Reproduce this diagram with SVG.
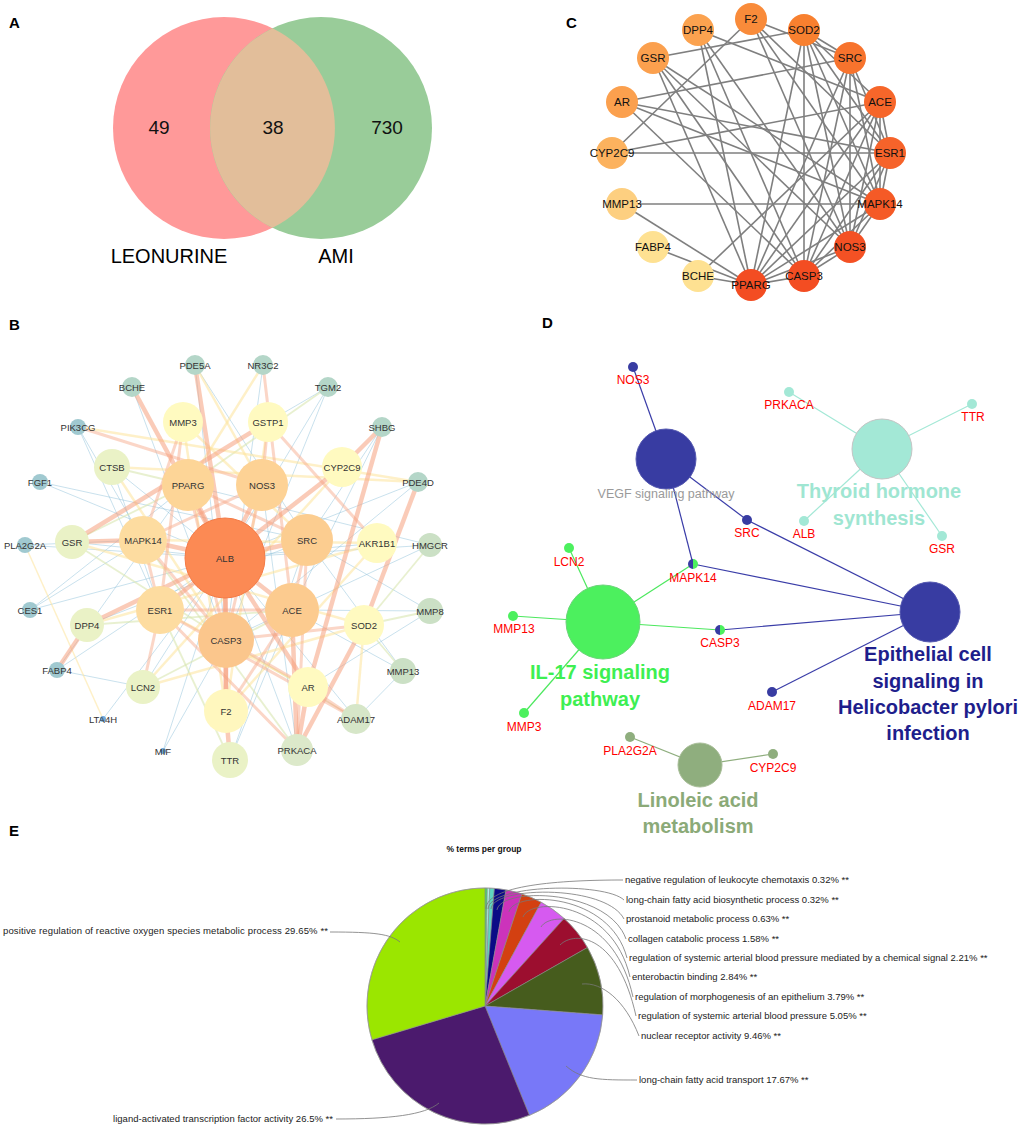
<svg xmlns="http://www.w3.org/2000/svg" width="1021" height="1130" viewBox="0 0 1021 1130">
<style>
text{font-family:"Liberation Sans",Arial,sans-serif}
.pl{font-size:15px;font-weight:bold;fill:#000}
.vn{font-size:19px;fill:#111;text-anchor:middle}
.vl{font-size:20px;fill:#000;text-anchor:middle}
.cl{font-size:11.5px;fill:#111;text-anchor:middle}
.ce line{stroke:#7f7f7f;stroke-width:1.6}
.bl{font-size:9.5px;fill:#333;text-anchor:middle}
.bT line{stroke:#F5A07E;stroke-opacity:.55;stroke-width:4.5}
.bS line{stroke:#F7AE90;stroke-opacity:.5;stroke-width:3}
.bY line{stroke:#FDE39A;stroke-opacity:.55;stroke-width:2.5}
.bG line{stroke:#D8E6B0;stroke-opacity:.6;stroke-width:1.8}
.bL line{stroke:#8EC0DA;stroke-opacity:.6;stroke-width:.8}
.dl{font-size:12px;fill:#FF0000;text-anchor:middle}
.dbig{font-size:20px;font-weight:bold;text-anchor:middle}
.el{font-size:9.5px;fill:#222}
.lead{fill:none;stroke:#777;stroke-width:.8}
.sl{stroke:#888;stroke-width:.6}
</style>

<!-- Panel labels -->
<text class="pl" x="9" y="28">A</text>
<text class="pl" x="566" y="28">C</text>
<text class="pl" x="9" y="330">B</text>
<text class="pl" x="542" y="328">D</text>
<text class="pl" x="9" y="836">E</text>

<!-- Panel A: Venn -->
<g id="venn">
<circle cx="224" cy="128" r="111" fill="#FF9999"/>
<circle cx="321" cy="128" r="111" fill="#99CC99"/>
<path d="M272.5,28.2 A111,111 0 0 1 272.5,227.8 A111,111 0 0 1 272.5,28.2 Z" fill="#E2BE9A"/>
<text class="vn" x="159" y="134">49</text>
<text class="vn" x="273" y="134">38</text>
<text class="vn" x="387" y="134">730</text>
<text class="vl" x="169" y="263">LEONURINE</text>
<text class="vl" x="336" y="263">AMI</text>
</g>

<!-- Panel C -->
<g id="c-edges" class="ce">
<line x1="653" y1="58" x2="804" y2="30"/>
<line x1="622" y1="102" x2="850" y2="58"/>
<line x1="612" y1="153" x2="880" y2="102"/>
<line x1="612" y1="153" x2="890" y2="153"/>
<line x1="622" y1="204" x2="880" y2="204"/>
<line x1="622" y1="204" x2="751" y2="285"/>
<line x1="653" y1="247" x2="751" y2="285"/>
<line x1="698" y1="276" x2="880" y2="102"/>
<line x1="751" y1="19" x2="612" y2="153"/>
<line x1="698" y1="30" x2="751" y2="285"/>
<line x1="698" y1="30" x2="804" y2="276"/>
<line x1="698" y1="30" x2="850" y2="247"/>
<line x1="698" y1="30" x2="880" y2="102"/>
<line x1="751" y1="19" x2="850" y2="58"/>
<line x1="751" y1="19" x2="890" y2="153"/>
<line x1="751" y1="19" x2="850" y2="247"/>
<line x1="751" y1="19" x2="880" y2="204"/>
<line x1="653" y1="58" x2="751" y2="285"/>
<line x1="653" y1="58" x2="850" y2="247"/>
<line x1="653" y1="58" x2="880" y2="204"/>
<line x1="653" y1="58" x2="804" y2="276"/>
<line x1="622" y1="102" x2="890" y2="153"/>
<line x1="622" y1="102" x2="880" y2="204"/>
<line x1="622" y1="102" x2="804" y2="276"/>
<line x1="804" y1="30" x2="804" y2="276"/>
<line x1="804" y1="30" x2="751" y2="285"/>
<line x1="804" y1="30" x2="850" y2="58"/>
<line x1="804" y1="30" x2="880" y2="102"/>
<line x1="804" y1="30" x2="890" y2="153"/>
<line x1="804" y1="30" x2="880" y2="204"/>
<line x1="804" y1="30" x2="850" y2="247"/>
<line x1="850" y1="58" x2="751" y2="285"/>
<line x1="850" y1="58" x2="804" y2="276"/>
<line x1="850" y1="58" x2="850" y2="247"/>
<line x1="850" y1="58" x2="880" y2="204"/>
<line x1="850" y1="58" x2="890" y2="153"/>
<line x1="880" y1="102" x2="751" y2="285"/>
<line x1="880" y1="102" x2="804" y2="276"/>
<line x1="880" y1="102" x2="850" y2="247"/>
<line x1="880" y1="102" x2="880" y2="204"/>
<line x1="880" y1="102" x2="890" y2="153"/>
<line x1="890" y1="153" x2="751" y2="285"/>
<line x1="890" y1="153" x2="804" y2="276"/>
<line x1="890" y1="153" x2="850" y2="247"/>
<line x1="890" y1="153" x2="880" y2="204"/>
<line x1="880" y1="204" x2="751" y2="285"/>
<line x1="880" y1="204" x2="804" y2="276"/>
<line x1="880" y1="204" x2="850" y2="247"/>
<line x1="850" y1="247" x2="804" y2="276"/>
<line x1="850" y1="247" x2="751" y2="285"/>
<line x1="804" y1="276" x2="751" y2="285"/>
<line x1="698" y1="276" x2="751" y2="285"/>
</g>
<g id="c-F2"><circle cx="751" cy="19" r="16" fill="#F98B3A"/><text class="cl" x="751" y="23">F2</text></g>
<g id="c-DPP4"><circle cx="698" cy="30" r="16" fill="#FBA24F"/><text class="cl" x="698" y="34">DPP4</text></g>
<g id="c-SOD2"><circle cx="804" cy="30" r="16" fill="#F8802F"/><text class="cl" x="804" y="34">SOD2</text></g>
<g id="c-GSR"><circle cx="653" cy="58" r="16" fill="#FBA04E"/><text class="cl" x="653" y="62">GSR</text></g>
<g id="c-SRC"><circle cx="850" cy="58" r="16" fill="#F7732D"/><text class="cl" x="850" y="62">SRC</text></g>
<g id="c-AR"><circle cx="622" cy="102" r="16" fill="#FBA04E"/><text class="cl" x="622" y="106">AR</text></g>
<g id="c-ACE"><circle cx="880" cy="102" r="16" fill="#F6662A"/><text class="cl" x="880" y="106">ACE</text></g>
<g id="c-CYP2C9"><circle cx="612" cy="153" r="16" fill="#FCB25E"/><text class="cl" x="612" y="157">CYP2C9</text></g>
<g id="c-ESR1"><circle cx="890" cy="153" r="16" fill="#F6632A"/><text class="cl" x="890" y="157">ESR1</text></g>
<g id="c-MMP13"><circle cx="622" cy="204" r="16" fill="#FDCF80"/><text class="cl" x="622" y="208">MMP13</text></g>
<g id="c-MAPK14"><circle cx="880" cy="204" r="16" fill="#F55A26"/><text class="cl" x="880" y="208">MAPK14</text></g>
<g id="c-FABP4"><circle cx="653" cy="247" r="16" fill="#FEE192"/><text class="cl" x="653" y="251">FABP4</text></g>
<g id="c-NOS3"><circle cx="850" cy="247" r="16" fill="#F45124"/><text class="cl" x="850" y="251">NOS3</text></g>
<g id="c-BCHE"><circle cx="698" cy="276" r="16" fill="#FEE192"/><text class="cl" x="698" y="280">BCHE</text></g>
<g id="c-CASP3"><circle cx="804" cy="276" r="16" fill="#F34D22"/><text class="cl" x="804" y="280">CASP3</text></g>
<g id="c-PPARG"><circle cx="751" cy="285" r="16" fill="#F34D22"/><text class="cl" x="751" y="289">PPARG</text></g>

<!-- Panel B -->
<g id="b-edges">
<g class="bL">
<line x1="30" y1="610" x2="143" y2="540"/><line x1="30" y1="610" x2="225" y2="558"/><line x1="30" y1="610" x2="188" y2="485"/>
<line x1="40" y1="482" x2="307" y2="540"/><line x1="40" y1="482" x2="225" y2="558"/>
<line x1="78" y1="427" x2="143" y2="540"/><line x1="78" y1="427" x2="160" y2="610"/>
<line x1="57" y1="670" x2="143" y2="687"/><line x1="57" y1="670" x2="225" y2="558"/><line x1="57" y1="670" x2="188" y2="485"/>
<line x1="163" y1="751" x2="225" y2="558"/><line x1="163" y1="751" x2="226" y2="640"/>
<line x1="103" y1="719" x2="225" y2="558"/>
<line x1="230" y1="760" x2="292" y2="610"/><line x1="230" y1="760" x2="307" y2="540"/>
<line x1="297" y1="750" x2="225" y2="558"/><line x1="297" y1="750" x2="262" y2="485"/>
<line x1="403" y1="671" x2="356" y2="719"/><line x1="403" y1="671" x2="307" y2="540"/><line x1="403" y1="671" x2="292" y2="610"/>
<line x1="430" y1="611" x2="292" y2="610"/><line x1="430" y1="611" x2="308" y2="687"/><line x1="430" y1="611" x2="307" y2="540"/>
<line x1="430" y1="545" x2="225" y2="558"/><line x1="430" y1="545" x2="188" y2="485"/><line x1="430" y1="545" x2="226" y2="640"/>
<line x1="418" y1="482" x2="225" y2="558"/><line x1="418" y1="482" x2="226" y2="640"/>
<line x1="382" y1="427" x2="307" y2="540"/><line x1="382" y1="427" x2="292" y2="610"/>
<line x1="328" y1="387" x2="226" y2="640"/><line x1="328" y1="387" x2="268" y2="422"/><line x1="328" y1="387" x2="225" y2="558"/>
<line x1="263" y1="365" x2="226" y2="640"/><line x1="195" y1="365" x2="226" y2="640"/><line x1="195" y1="365" x2="307" y2="540"/>
<line x1="132" y1="387" x2="226" y2="640"/>
<line x1="25" y1="545" x2="225" y2="558"/><line x1="25" y1="545" x2="143" y2="540"/>
<line x1="112" y1="467" x2="225" y2="558"/><line x1="112" y1="467" x2="160" y2="610"/>
<line x1="72" y1="542" x2="225" y2="558"/><line x1="377" y1="543" x2="225" y2="558"/><line x1="143" y1="687" x2="225" y2="558"/>
<line x1="87" y1="625" x2="307" y2="540"/><line x1="356" y1="719" x2="225" y2="558"/>
</g>
<g class="bG">
<line x1="112" y1="467" x2="188" y2="485"/><line x1="72" y1="542" x2="226" y2="640"/><line x1="87" y1="625" x2="292" y2="610"/>
<line x1="143" y1="687" x2="292" y2="610"/><line x1="230" y1="760" x2="160" y2="610"/><line x1="328" y1="387" x2="188" y2="485"/>
<line x1="297" y1="750" x2="143" y2="540"/><line x1="356" y1="719" x2="226" y2="640"/><line x1="430" y1="611" x2="364" y2="625"/>
<line x1="430" y1="545" x2="364" y2="625"/><line x1="403" y1="671" x2="364" y2="625"/><line x1="72" y1="542" x2="188" y2="485"/>
</g>
<g class="bY">
<line x1="112" y1="467" x2="418" y2="482"/><line x1="78" y1="427" x2="418" y2="482"/>
<line x1="103" y1="719" x2="25" y2="545" style="stroke-width:1.5"/>
<line x1="183" y1="422" x2="226" y2="711"/><line x1="268" y1="422" x2="226" y2="711"/>
<line x1="143" y1="687" x2="364" y2="625"/><line x1="226" y1="711" x2="377" y2="543"/>
<line x1="342" y1="467" x2="143" y2="687"/><line x1="72" y1="542" x2="364" y2="625"/>
<line x1="183" y1="422" x2="307" y2="540"/><line x1="195" y1="365" x2="262" y2="485"/>
<line x1="263" y1="365" x2="188" y2="485"/><line x1="143" y1="540" x2="377" y2="543"/>
<line x1="87" y1="625" x2="377" y2="543"/><line x1="160" y1="610" x2="308" y2="687"/>
<line x1="364" y1="625" x2="356" y2="719"/><line x1="112" y1="467" x2="226" y2="640"/>
</g>
<g class="bS">
<line x1="263" y1="365" x2="292" y2="610"/><line x1="78" y1="427" x2="262" y2="485"/>
<line x1="268" y1="422" x2="377" y2="543"/><line x1="183" y1="422" x2="160" y2="610"/>
<line x1="160" y1="610" x2="143" y2="687"/><line x1="160" y1="610" x2="356" y2="719"/>
<line x1="160" y1="610" x2="297" y2="750"/><line x1="307" y1="540" x2="297" y2="750"/>
<line x1="308" y1="687" x2="356" y2="719"/><line x1="226" y1="711" x2="292" y2="610"/>
<line x1="143" y1="540" x2="226" y2="640"/><line x1="188" y1="485" x2="226" y2="640"/>
<line x1="262" y1="485" x2="226" y2="640"/><line x1="188" y1="485" x2="307" y2="540"/>
<line x1="262" y1="485" x2="143" y2="540"/><line x1="143" y1="540" x2="160" y2="610"/>
<line x1="307" y1="540" x2="292" y2="610"/><line x1="160" y1="610" x2="292" y2="610"/>
<line x1="226" y1="640" x2="308" y2="687"/><line x1="183" y1="422" x2="143" y2="540"/>
<line x1="268" y1="422" x2="262" y2="485"/><line x1="226" y1="640" x2="364" y2="625"/>
</g>
<g class="bT">
<line x1="225" y1="558" x2="188" y2="485"/><line x1="225" y1="558" x2="262" y2="485"/>
<line x1="225" y1="558" x2="143" y2="540"/><line x1="225" y1="558" x2="307" y2="540"/>
<line x1="225" y1="558" x2="160" y2="610"/><line x1="225" y1="558" x2="292" y2="610"/>
<line x1="225" y1="558" x2="226" y2="640"/><line x1="226" y1="640" x2="226" y2="711"/>
<line x1="226" y1="711" x2="230" y2="760"/><line x1="225" y1="558" x2="342" y2="467"/>
<line x1="342" y1="467" x2="382" y2="427"/><line x1="382" y1="427" x2="308" y2="687"/>
<line x1="132" y1="387" x2="225" y2="558"/><line x1="195" y1="365" x2="225" y2="558"/>
<line x1="268" y1="422" x2="72" y2="542"/><line x1="418" y1="482" x2="364" y2="625"/>
<line x1="143" y1="540" x2="72" y2="542"/><line x1="87" y1="625" x2="57" y2="670"/>
<line x1="87" y1="625" x2="225" y2="558"/><line x1="308" y1="687" x2="297" y2="750"/>
<line x1="292" y1="610" x2="297" y2="750"/><line x1="364" y1="625" x2="297" y2="750"/>
<line x1="225" y1="558" x2="308" y2="687"/><line x1="225" y1="558" x2="226" y2="711"/>
</g>
</g>
<g id="b-PDE5A"><circle cx="195" cy="365" r="10" fill="#B4D6C8"/><text class="bl" x="195" y="368.5">PDE5A</text></g>
<g id="b-NR3C2"><circle cx="263" cy="365" r="10" fill="#B4D6C8"/><text class="bl" x="263" y="368.5">NR3C2</text></g>
<g id="b-BCHE"><circle cx="132" cy="387" r="10" fill="#B4D6C8"/><text class="bl" x="132" y="390.5">BCHE</text></g>
<g id="b-TGM2"><circle cx="328" cy="387" r="10" fill="#B4D6C8"/><text class="bl" x="328" y="390.5">TGM2</text></g>
<g id="b-PIK3CG"><circle cx="78" cy="427" r="8" fill="#A0C9D0"/><text class="bl" x="78" y="430.5">PIK3CG</text></g>
<g id="b-SHBG"><circle cx="382" cy="427" r="10" fill="#B4D6C8"/><text class="bl" x="382" y="430.5">SHBG</text></g>
<g id="b-MMP3"><circle cx="183" cy="422" r="20" fill="#FFFAC0"/><text class="bl" x="183" y="425.5">MMP3</text></g>
<g id="b-GSTP1"><circle cx="268" cy="422" r="20" fill="#FFFAC0"/><text class="bl" x="268" y="425.5">GSTP1</text></g>
<g id="b-CTSB"><circle cx="112" cy="467" r="18" fill="#EAF2C6"/><text class="bl" x="112" y="470.5">CTSB</text></g>
<g id="b-CYP2C9"><circle cx="342" cy="467" r="20" fill="#FFFAC0"/><text class="bl" x="342" y="470.5">CYP2C9</text></g>
<g id="b-FGF1"><circle cx="40" cy="482" r="8" fill="#A0C9D0"/><text class="bl" x="40" y="485.5">FGF1</text></g>
<g id="b-PDE4D"><circle cx="418" cy="482" r="10" fill="#B4D6C8"/><text class="bl" x="418" y="485.5">PDE4D</text></g>
<g id="b-PPARG"><circle cx="188" cy="485" r="26" fill="#FDD597"/><text class="bl" x="188" y="488.5">PPARG</text></g>
<g id="b-NOS3"><circle cx="262" cy="485" r="26" fill="#FDD295"/><text class="bl" x="262" y="488.5">NOS3</text></g>
<g id="b-PLA2G2A"><circle cx="25" cy="545" r="8" fill="#A0C9D0"/><text class="bl" x="25" y="548.5">PLA2G2A</text></g>
<g id="b-GSR"><circle cx="72" cy="542" r="17" fill="#EAF2C6"/><text class="bl" x="72" y="545.5">GSR</text></g>
<g id="b-MAPK14"><circle cx="143" cy="540" r="24" fill="#FDDCA0"/><text class="bl" x="143" y="543.5">MAPK14</text></g>
<g id="b-SRC"><circle cx="307" cy="540" r="26" fill="#FCCD90"/><text class="bl" x="307" y="543.5">SRC</text></g>
<g id="b-AKR1B1"><circle cx="377" cy="543" r="20" fill="#FFFAC0"/><text class="bl" x="377" y="546.5">AKR1B1</text></g>
<g id="b-HMGCR"><circle cx="430" cy="545" r="12" fill="#CBE0C5"/><text class="bl" x="430" y="548.5">HMGCR</text></g>
<g id="b-ALB"><circle cx="225" cy="558" r="40" fill="#FC8A54" stroke="#F47A45" stroke-width="1"/><text class="bl" x="225" y="561.5">ALB</text></g>
<g id="b-CES1"><circle cx="30" cy="610" r="8" fill="#A0C9D0"/><text class="bl" x="30" y="613.5">CES1</text></g>
<g id="b-DPP4"><circle cx="87" cy="625" r="17" fill="#EAF2C6"/><text class="bl" x="87" y="628.5">DPP4</text></g>
<g id="b-ESR1"><circle cx="160" cy="610" r="24" fill="#FDDCA0"/><text class="bl" x="160" y="613.5">ESR1</text></g>
<g id="b-ACE"><circle cx="292" cy="610" r="27" fill="#FCCB8F"/><text class="bl" x="292" y="613.5">ACE</text></g>
<g id="b-CASP3"><circle cx="226" cy="640" r="28" fill="#FBC68C"/><text class="bl" x="226" y="643.5">CASP3</text></g>
<g id="b-SOD2"><circle cx="364" cy="625" r="20" fill="#FFFAC0"/><text class="bl" x="364" y="628.5">SOD2</text></g>
<g id="b-MMP8"><circle cx="430" cy="611" r="13" fill="#CBE0C5"/><text class="bl" x="430" y="614.5">MMP8</text></g>
<g id="b-FABP4"><circle cx="57" cy="670" r="8" fill="#A0C9D0"/><text class="bl" x="57" y="673.5">FABP4</text></g>
<g id="b-LCN2"><circle cx="143" cy="687" r="17" fill="#EAF2C6"/><text class="bl" x="143" y="690.5">LCN2</text></g>
<g id="b-MMP13"><circle cx="403" cy="671" r="13" fill="#CBE0C5"/><text class="bl" x="403" y="674.5">MMP13</text></g>
<g id="b-AR"><circle cx="308" cy="687" r="20" fill="#FFFAC0"/><text class="bl" x="308" y="690.5">AR</text></g>
<g id="b-F2"><circle cx="226" cy="711" r="22" fill="#FFF7BE"/><text class="bl" x="226" y="714.5">F2</text></g>
<g id="b-LTA4H"><circle cx="103" cy="719" r="3" fill="#6FA8D8"/><text class="bl" x="103" y="722.5">LTA4H</text></g>
<g id="b-ADAM17"><circle cx="356" cy="719" r="15" fill="#D6E6C8"/><text class="bl" x="356" y="722.5">ADAM17</text></g>
<g id="b-MIF"><circle cx="163" cy="751" r="3" fill="#6FA8D8"/><text class="bl" x="163" y="754.5">MIF</text></g>
<g id="b-PRKACA"><circle cx="297" cy="750" r="16" fill="#DCE9CA"/><text class="bl" x="297" y="753.5">PRKACA</text></g>
<g id="b-TTR"><circle cx="230" cy="760" r="18" fill="#EAF2C6"/><text class="bl" x="230" y="763.5">TTR</text></g>

<!-- Panel D -->
<g id="d-edges" fill="none" stroke-width="1.2">
<g stroke="#3A3DA8">
<line x1="633" y1="367" x2="666" y2="459"/>
<line x1="666" y1="459" x2="747" y2="520"/>
<line x1="747" y1="520" x2="930" y2="612"/>
<line x1="666" y1="459" x2="693" y2="564"/>
<line x1="693" y1="564" x2="930" y2="612"/>
<line x1="720" y1="630" x2="930" y2="612"/>
<line x1="772" y1="692" x2="930" y2="612"/>
</g>
<g stroke="#4CE85E">
<line x1="603" y1="622" x2="569" y2="548"/>
<line x1="603" y1="622" x2="513" y2="616"/>
<line x1="603" y1="622" x2="524" y2="713"/>
<line x1="603" y1="622" x2="693" y2="564"/>
<line x1="603" y1="622" x2="720" y2="630"/>
</g>
<g stroke="#A3E8D6">
<line x1="882" y1="449" x2="789" y2="392"/>
<line x1="882" y1="449" x2="972" y2="404"/>
<line x1="882" y1="449" x2="804" y2="521"/>
<line x1="882" y1="449" x2="942" y2="536"/>
</g>
<g stroke="#8FAE7E">
<line x1="700" y1="765" x2="630" y2="737"/>
<line x1="700" y1="765" x2="773" y2="754"/>
</g>
</g>
<g id="d-VEGF"><circle cx="666" cy="459" r="30" fill="#383CA2" stroke="#5458B0" stroke-width="1"/><text x="666" y="498" font-size="12.5" fill="#9A9A9A" text-anchor="middle">VEGF signaling pathway</text></g>
<g id="d-Thyroid"><circle cx="882" cy="449" r="30" fill="#A3E8D6" stroke="#C4C4C4" stroke-width="1"/><text class="dbig" x="879" y="498" fill="#9FE6D2">Thyroid hormone</text><text class="dbig" x="879" y="524.5" fill="#9FE6D2">synthesis</text></g>
<g id="d-IL17"><circle cx="603" cy="622" r="37" fill="#4CF05E" stroke="#6CD47A" stroke-width="1"/><text class="dbig" x="600" y="678.5" fill="#3EEF52">IL-17 signaling</text><text class="dbig" x="600" y="706" fill="#3EEF52">pathway</text></g>
<g id="d-Epithelial"><circle cx="930" cy="612" r="30" fill="#383CA2" stroke="#5458B0" stroke-width="1"/><text class="dbig" x="928" y="661" fill="#1E1E8C">Epithelial cell</text><text class="dbig" x="928" y="688" fill="#1E1E8C">signaling in</text><text class="dbig" x="928" y="714" fill="#1E1E8C">Helicobacter pylori</text><text class="dbig" x="928" y="740" fill="#1E1E8C">infection</text></g>
<g id="d-Linoleic"><circle cx="700" cy="765" r="22" fill="#8FAE7E" stroke="#A7BD97" stroke-width="1"/><text class="dbig" x="698" y="806.5" fill="#8BAA78">Linoleic acid</text><text class="dbig" x="698" y="833" fill="#8BAA78">metabolism</text></g>
<g id="d-NOS3"><circle cx="633" cy="367" r="5" fill="#383CA2"/><text class="dl" x="633" y="384">NOS3</text></g>
<g id="d-PRKACA"><circle cx="789" cy="392" r="5" fill="#A3E8D6"/><text class="dl" x="789" y="409">PRKACA</text></g>
<g id="d-TTR"><circle cx="972" cy="404" r="5" fill="#A3E8D6"/><text class="dl" x="973" y="421">TTR</text></g>
<g id="d-ALB"><circle cx="804" cy="521" r="5" fill="#A3E8D6"/><text class="dl" x="804" y="538">ALB</text></g>
<g id="d-GSR"><circle cx="942" cy="536" r="5" fill="#A3E8D6"/><text class="dl" x="942" y="553">GSR</text></g>
<g id="d-SRC"><circle cx="747" cy="520" r="5" fill="#383CA2"/><text class="dl" x="747" y="537">SRC</text></g>
<g id="d-LCN2"><circle cx="569" cy="548" r="5" fill="#4CF05E"/><text class="dl" x="569" y="566">LCN2</text></g>
<g id="d-MAPK14"><path d="M693,559 A5,5 0 0 0 693,569 Z" fill="#383CA2"/><path d="M693,559 A5,5 0 0 1 693,569 Z" fill="#4CF05E"/><text class="dl" x="693" y="582">MAPK14</text></g>
<g id="d-MMP13"><circle cx="513" cy="616" r="5" fill="#4CF05E"/><text class="dl" x="514" y="633">MMP13</text></g>
<g id="d-CASP3"><path d="M720,625 A5,5 0 0 0 720,635 Z" fill="#383CA2"/><path d="M720,625 A5,5 0 0 1 720,635 Z" fill="#4CF05E"/><text class="dl" x="720" y="647">CASP3</text></g>
<g id="d-MMP3"><circle cx="524" cy="713" r="5" fill="#4CF05E"/><text class="dl" x="524" y="731">MMP3</text></g>
<g id="d-ADAM17"><circle cx="772" cy="692" r="5" fill="#383CA2"/><text class="dl" x="772" y="710">ADAM17</text></g>
<g id="d-PLA2G2A"><circle cx="630" cy="737" r="5" fill="#8FAE7E"/><text class="dl" x="630" y="755">PLA2G2A</text></g>
<g id="d-CYP2C9"><circle cx="773" cy="754" r="5" fill="#8FAE7E"/><text class="dl" x="773" y="772">CYP2C9</text></g>

<!-- Panel E -->
<g id="e-pie">
<text x="484" y="852" font-size="8.5" font-weight="bold" fill="#111" text-anchor="middle">% terms per group</text>
<path class="sl" d="M485,1006 L485,888 A118,118 0 0 1 487.37,888.02 Z" fill="#4AD66B"/>
<path class="sl" d="M485,1006 L487.37,888.02 A118,118 0 0 1 489.74,888.10 Z" fill="#A8F2E4"/>
<path class="sl" d="M485,1006 L489.74,888.10 A118,118 0 0 1 494.41,888.38 Z" fill="#5FD6C0"/>
<path class="sl" d="M485,1006 L494.41,888.38 A118,118 0 0 1 506.02,889.89 Z" fill="#0B0B86"/>
<path class="sl" d="M485,1006 L506.02,889.89 A118,118 0 0 1 521.89,893.91 Z" fill="#CC33BB"/>
<path class="sl" d="M485,1006 L521.89,893.91 A118,118 0 0 1 541.20,902.24 Z" fill="#D34011"/>
<path class="sl" d="M485,1006 L541.20,902.24 A118,118 0 0 1 564.09,918.43 Z" fill="#D65AF0"/>
<path class="sl" d="M485,1006 L564.09,918.43 A118,118 0 0 1 587.46,947.47 Z" fill="#9C0E2F"/>
<path class="sl" d="M485,1006 L587.46,947.47 A118,118 0 0 1 602.66,1014.89 Z" fill="#465C1D"/>
<path class="sl" d="M485,1006 L602.66,1014.89 A118,118 0 0 1 529.33,1115.36 Z" fill="#7878F8"/>
<path class="sl" d="M485,1006 L529.33,1115.36 A118,118 0 0 1 371.96,1039.84 Z" fill="#4B1A6D"/>
<path class="sl" d="M485,1006 L371.96,1039.84 A118,118 0 0 1 485,888 Z" fill="#9BE600"/>
<circle cx="485" cy="1006" r="118" fill="none" stroke="#999" stroke-width=".6"/>
</g>
<g id="e-leaders">
<path class="lead" d="M486,909 C486,885 560,880 623,880"/>
<path class="lead" d="M488,909 C489,884 605,882 624,900"/>
<path class="lead" d="M491,909 C492,886 606,884 624,919"/>
<path class="lead" d="M497,910 C500,887 608,888 626,939"/>
<path class="lead" d="M509,912 C513,890 610,892 627,958"/>
<path class="lead" d="M523,917 C530,897 612,900 630,977"/>
<path class="lead" d="M541,927 C551,910 615,915 633,997"/>
<path class="lead" d="M560,945 C575,930 618,935 636,1016"/>
<path class="lead" d="M582,984 C602,982 625,1000 639,1036"/>
<path class="lead" d="M566,1066 C582,1080 600,1080 637,1080"/>
<path class="lead" d="M439,1103 C425,1115 390,1119 336,1119"/>
<path class="lead" d="M400,942 C390,934 375,932 330,932"/>
</g>
<g id="e-labels">
<text class="el" x="625" y="883">negative regulation of leukocyte chemotaxis 0.32% **</text>
<text class="el" x="626" y="903">long-chain fatty acid biosynthetic process 0.32% **</text>
<text class="el" x="626" y="922">prostanoid metabolic process 0.63% **</text>
<text class="el" x="628" y="942">collagen catabolic process 1.58% **</text>
<text class="el" x="629" y="961">regulation of systemic arterial blood pressure mediated by a chemical signal 2.21% **</text>
<text class="el" x="632" y="980">enterobactin binding 2.84% **</text>
<text class="el" x="635" y="1000">regulation of morphogenesis of an epithelium 3.79% **</text>
<text class="el" x="638" y="1019">regulation of systemic arterial blood pressure 5.05% **</text>
<text class="el" x="641" y="1039">nuclear receptor activity 9.46% **</text>
<text class="el" x="639" y="1083">long-chain fatty acid transport 17.67% **</text>
<text class="el" x="3" y="934" textLength="325" lengthAdjust="spacing">positive regulation of reactive oxygen species metabolic process 29.65% **</text>
<text class="el" x="113" y="1122" textLength="220" lengthAdjust="spacing">ligand-activated transcription factor activity 26.5% **</text>
</g>
</svg>
